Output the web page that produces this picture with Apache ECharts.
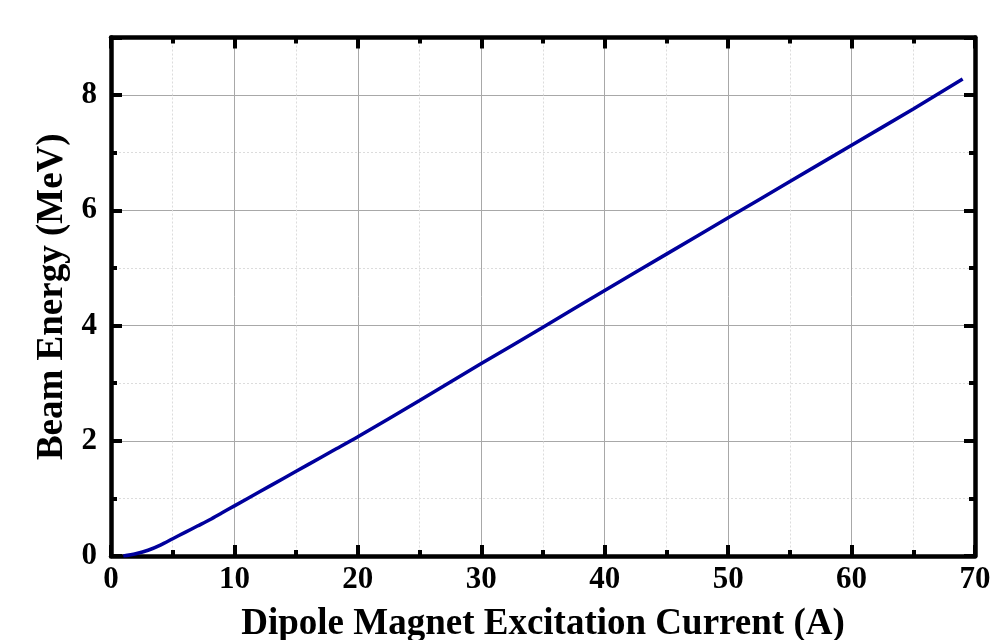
<!DOCTYPE html>
<html>
<head>
<meta charset="utf-8">
<script src="https://cdn.jsdelivr.net/npm/echarts@6/dist/echarts.min.js"></script>
<style>
  html, body { margin: 0; padding: 0; background: #fff; }
  #chart { width: 991px; height: 640px; }
</style>
</head>
<body>
<div id="chart"></div>
<script>
// excitation current (A) and beam energy (MeV)
var current = [1, 2, 3, 4, 5, 6, 7, 8, 9, 10, 12, 14, 16, 18, 20, 25, 30, 35, 40, 45, 50, 55, 60, 65, 69]
var energy = [0.0, 0.04, 0.1, 0.19, 0.3, 0.41, 0.52, 0.63, 0.75, 0.87, 1.11, 1.35, 1.59, 1.83, 2.07,
  2.70, 3.34, 3.97, 4.61, 5.24, 5.87, 6.50, 7.13, 7.76, 8.28]

var FONT = "'Liberation Serif', 'Times New Roman', serif"
var chart = echarts.init(document.getElementById('chart'))

var frameLine = { show: true, onZero: false, lineStyle: { color: '#000', width: 4.5 } }
var majorTick = { show: true, inside: true, length: 11, lineStyle: { color: '#000', width: 4 } }
var minorTick = { show: true, splitNumber: 2, length: 6, lineStyle: { color: '#000', width: 4 } }
var gridMajor = { show: true, lineStyle: { color: '#a8a8a8', width: 1 } }
var gridMinor = { show: true, lineStyle: { color: '#dcdcdc', width: 1, type: [2, 2] } }

chart.setOption({
  animation: false,
  grid: { left: 111, right: 16, top: 37.5, bottom: 84, outerBoundsMode: 'none', containLabel: false },
  xAxis: [{
    type: 'value', position: 'bottom', min: 0, max: 70, interval: 10,
    axisLine: frameLine, axisTick: majorTick, minorTick: minorTick,
    splitLine: gridMajor, minorSplitLine: gridMinor,
    axisLabel: { color: '#000', fontSize: 31, fontWeight: 'bold', fontFamily: FONT, margin: 8 },
    name: 'Dipole Magnet Excitation Current (A)', nameLocation: 'middle', nameGap: 50,
    nameTextStyle: { color: '#000', fontSize: 37, fontWeight: 'bold', fontFamily: FONT }
  }, {
    type: 'value', position: 'top', min: 0, max: 70, interval: 10,
    axisLine: frameLine, axisTick: majorTick, minorTick: minorTick,
    splitLine: { show: false }, axisLabel: { show: false }
  }],
  yAxis: [{
    type: 'value', position: 'left', min: 0, max: 9, interval: 2,
    axisLine: frameLine, axisTick: majorTick, minorTick: minorTick,
    splitLine: gridMajor, minorSplitLine: gridMinor,
    axisLabel: { color: '#000', fontSize: 31, fontWeight: 'bold', fontFamily: FONT, margin: 14, showMaxLabel: false },
    name: 'Beam Energy (MeV)', nameLocation: 'middle', nameGap: 32,
    nameTextStyle: { color: '#000', fontSize: 37, fontWeight: 'bold', fontFamily: FONT }
  }, {
    type: 'value', position: 'right', min: 0, max: 9, interval: 2,
    axisLine: frameLine, axisTick: majorTick, minorTick: minorTick,
    splitLine: { show: false }, axisLabel: { show: false }
  }],
  series: [{
    type: 'line',
    data: current.map(function(x, i) { return [x, energy[i]] }),
    smooth: 0.3,
    showSymbol: false,
    lineStyle: { color: '#00009c', width: 3.5 },
    z: 3
  }]
})
</script>
</body>
</html>
